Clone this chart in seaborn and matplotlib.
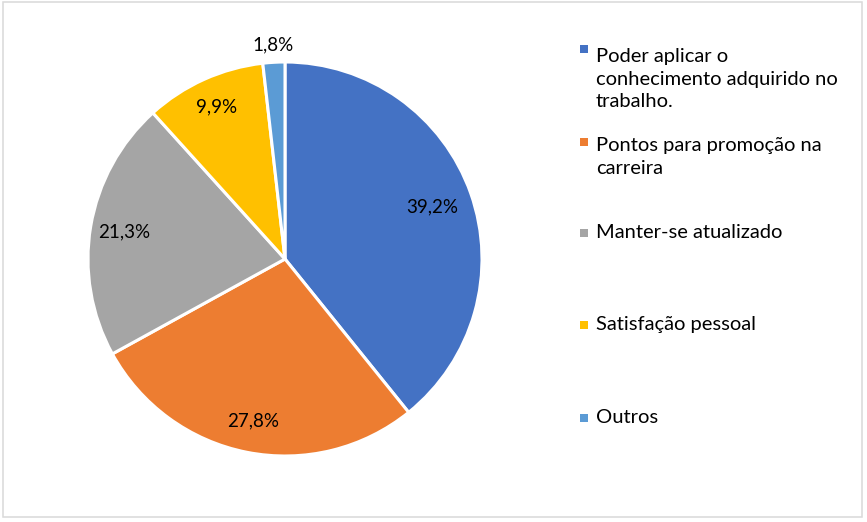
import numpy as np
import matplotlib
matplotlib.use("Agg")
import matplotlib.pyplot as plt
import seaborn as sns
from matplotlib.patches import Rectangle

# data ---------------------------------------------------------------
categories = [
    "Poder aplicar o\nconhecimento adquirido no\ntrabalho.",
    "Pontos para promoção na\ncarreira",
    "Manter-se atualizado",
    "Satisfação pessoal",
    "Outros",
]
values = [39.2, 27.8, 21.3, 9.9, 1.8]
colors = ["#4472C4", "#ED7D31", "#A5A5A5", "#FFC000", "#5B9BD5"]

# style --------------------------------------------------------------
sns.set_theme(style="white")
plt.rcParams["font.family"] = ["Lato", "DejaVu Sans"]

W, H = 867, 522
fig = plt.figure(figsize=(W / 100, H / 100), dpi=100)

# pie centre / radius in pixels
cx, cy, r = 285, 259, 197
ax = fig.add_axes([(cx - r) / W, (H - cy - r) / H, 2 * r / W, 2 * r / H])

palette = sns.color_palette(colors)
wedges, _, autotexts = ax.pie(
    values, colors=palette, startangle=90, counterclock=False,
    autopct=lambda p: f"{p:.1f}%".replace(".", ","),
    wedgeprops=dict(edgecolor="white", linewidth=2.2),
    textprops=dict(fontsize=13.5, color="black"),
)
ax.set_xlim(-1, 1)
ax.set_ylim(-1, 1)
ax.set_aspect("equal")

# label distance from centre (Excel "best fit")
label_r = [0.795, 0.84, 0.83, 0.85, 1.09]
for w, t, lr in zip(wedges, autotexts, label_r):
    ang = np.deg2rad((w.theta1 + w.theta2) / 2)
    t.set_position((lr * np.cos(ang), lr * np.sin(ang)))
    t.set_ha("center")
    t.set_va("center")

# legend drawn like Excel: marker on first line -----------------------
leg_baselines = [54, 147, 238, 330, 423]
line_px = 26.5
for lab, col, yb in zip(categories, palette, leg_baselines):
    fig.add_artist(Rectangle(((580) / W, (H - yb + 1) / H), 8 / W, 8 / H,
                             transform=fig.transFigure, facecolor=col,
                             edgecolor="none"))
    n = lab.count("\n")
    y_last = yb + n * line_px  # matplotlib baseline = last line
    fig.text(596 / W, (H - y_last) / H, lab, fontsize=14.5, ha="left",
             va="baseline", linespacing=1.38, color="black")

# outer frame
fig.add_artist(Rectangle((2.5 / W, 5 / H), (862 - 2.5) / W, (517 - 1.5) / H,
                         transform=fig.transFigure, fill=False,
                         edgecolor="#d9d9d9", linewidth=1.1))

fig.savefig("out.png", dpi=100)
plt.close("all")
